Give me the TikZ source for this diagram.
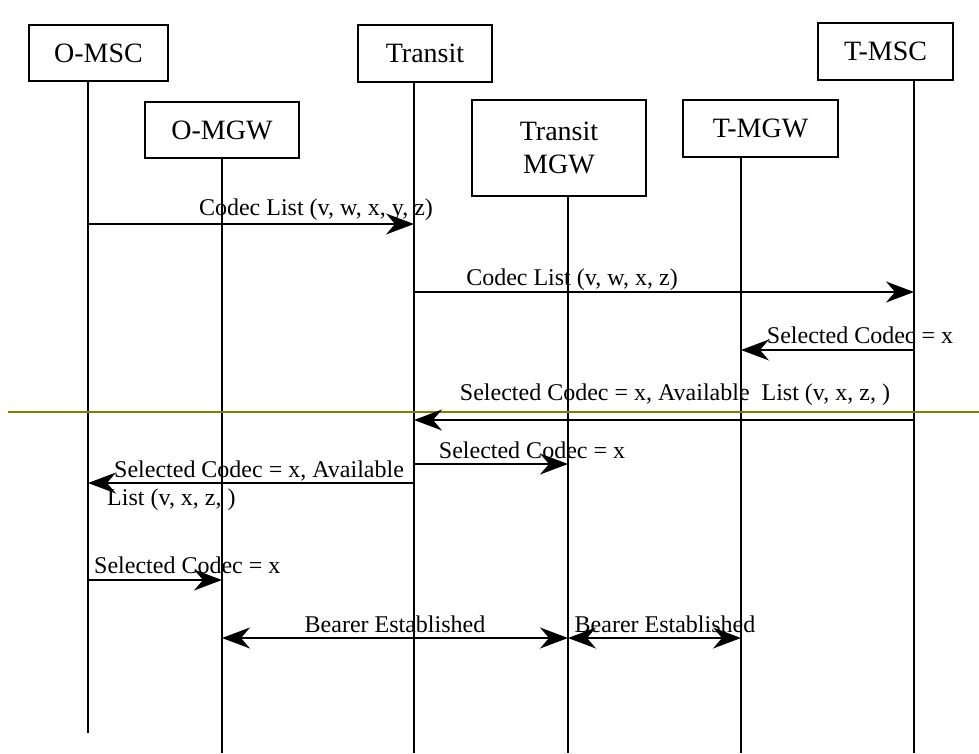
\documentclass[tikz,border=0pt]{standalone}
\usepackage{fontspec}
\setmainfont{Liberation Serif}
\usepackage{tikz}
\usetikzlibrary{arrows.meta, positioning, calc}
\usepackage{xcolor}
\definecolor{olivegreen}{RGB}{128,128,0}

\begin{document}
\begin{tikzpicture}[x=1pt, y=-1pt,
  >={Stealth[length=28pt, width=21pt, inset=9pt]},
  entity/.style={draw, line width=1.3pt, inner sep=0pt, align=center, font=\fontsize{28}{33}\selectfont},
  msg/.style={->, line width=1.3pt},
  bimsg/.style={<->, line width=1.3pt},
  lbl/.style={inner sep=0pt, font=\fontsize{24}{28}\selectfont}]
  \useasboundingbox (0,0) rectangle (979,753);
  % entities
  \node[entity, minimum width=139pt, minimum height=56pt] (omsc) at (98.5,53) {O-MSC};
  \node[entity, minimum width=154pt, minimum height=56pt] (omgw) at (222,130) {O-MGW};
  \node[entity, minimum width=134pt, minimum height=57pt] (transit) at (425,53.5) {Transit};
  \node[entity, minimum width=174pt, minimum height=96pt] (trmgw) at (559,148) {Transit\\MGW};
  \node[entity, minimum width=155pt, minimum height=57pt] (tmgw) at (760.5,128.5) {T-MGW};
  \node[entity, minimum width=135pt, minimum height=57pt] (tmsc) at (885.5,51.5) {T-MSC};
  % lifelines
  \foreach \n/\x/\e in {omsc/88/733, omgw/222/753, transit/414/753, trmgw/568/753, tmgw/741/753, tmsc/914/753} {
    \coordinate (\n-l) at (\n.south -| \x,0);
    \draw[line width=1.3pt] (\n-l) -- (\x,\e);
  }
  \draw[olivegreen, line width=1.3pt] (8,412) -- (979,412);
  % messages
  \draw[msg] (omsc-l |- 0,224) -- (transit-l |- 0,224);
  \node[lbl, anchor=base] (m1) at (316,215) {Codec List (v, w, x, y, z)};
  \draw[msg] (transit-l |- 0,292) -- (tmsc-l |- 0,292);
  \node[lbl, anchor=base] (m2) at (572,285) {Codec List (v, w, x, z)};
  \draw[msg] (tmsc-l |- 0,350) -- (tmgw-l |- 0,350);
  \node[lbl, anchor=base] (m3) at (860,343) {Selected Codec = x};
  \draw[msg] (tmsc-l |- 0,420) -- (transit-l |- 0,420);
  \node[lbl, anchor=base] (m4) at (675,400) {Selected Codec = x, Available~ List (v, x, z, )};
  \draw[msg] (transit-l |- 0,464) -- (trmgw-l |- 0,464);
  \node[lbl, anchor=base] (m5) at (532,458) {Selected Codec = x};
  \draw[msg] (transit-l |- 0,483) -- (omsc-l |- 0,483);
  \node[lbl, align=left, anchor=north west] (m6) at (107,461) {\hspace{7pt}Selected Codec = x, Available\\List (v, x, z, )};
  \draw[msg] (omsc-l |- 0,580) -- (omgw-l |- 0,580);
  \node[lbl, anchor=base west] (m7) at (94,573) {Selected Codec = x};
  \draw[bimsg] (omgw-l |- 0,638) -- (trmgw-l |- 0,638);
  \node[lbl, anchor=base] (m8) at (395,632) {Bearer Established};
  \draw[bimsg] (trmgw-l |- 0,638) -- (tmgw-l |- 0,638);
  \node[lbl, anchor=base] (m9) at (665,632) {Bearer Established};
\end{tikzpicture}
\end{document}
